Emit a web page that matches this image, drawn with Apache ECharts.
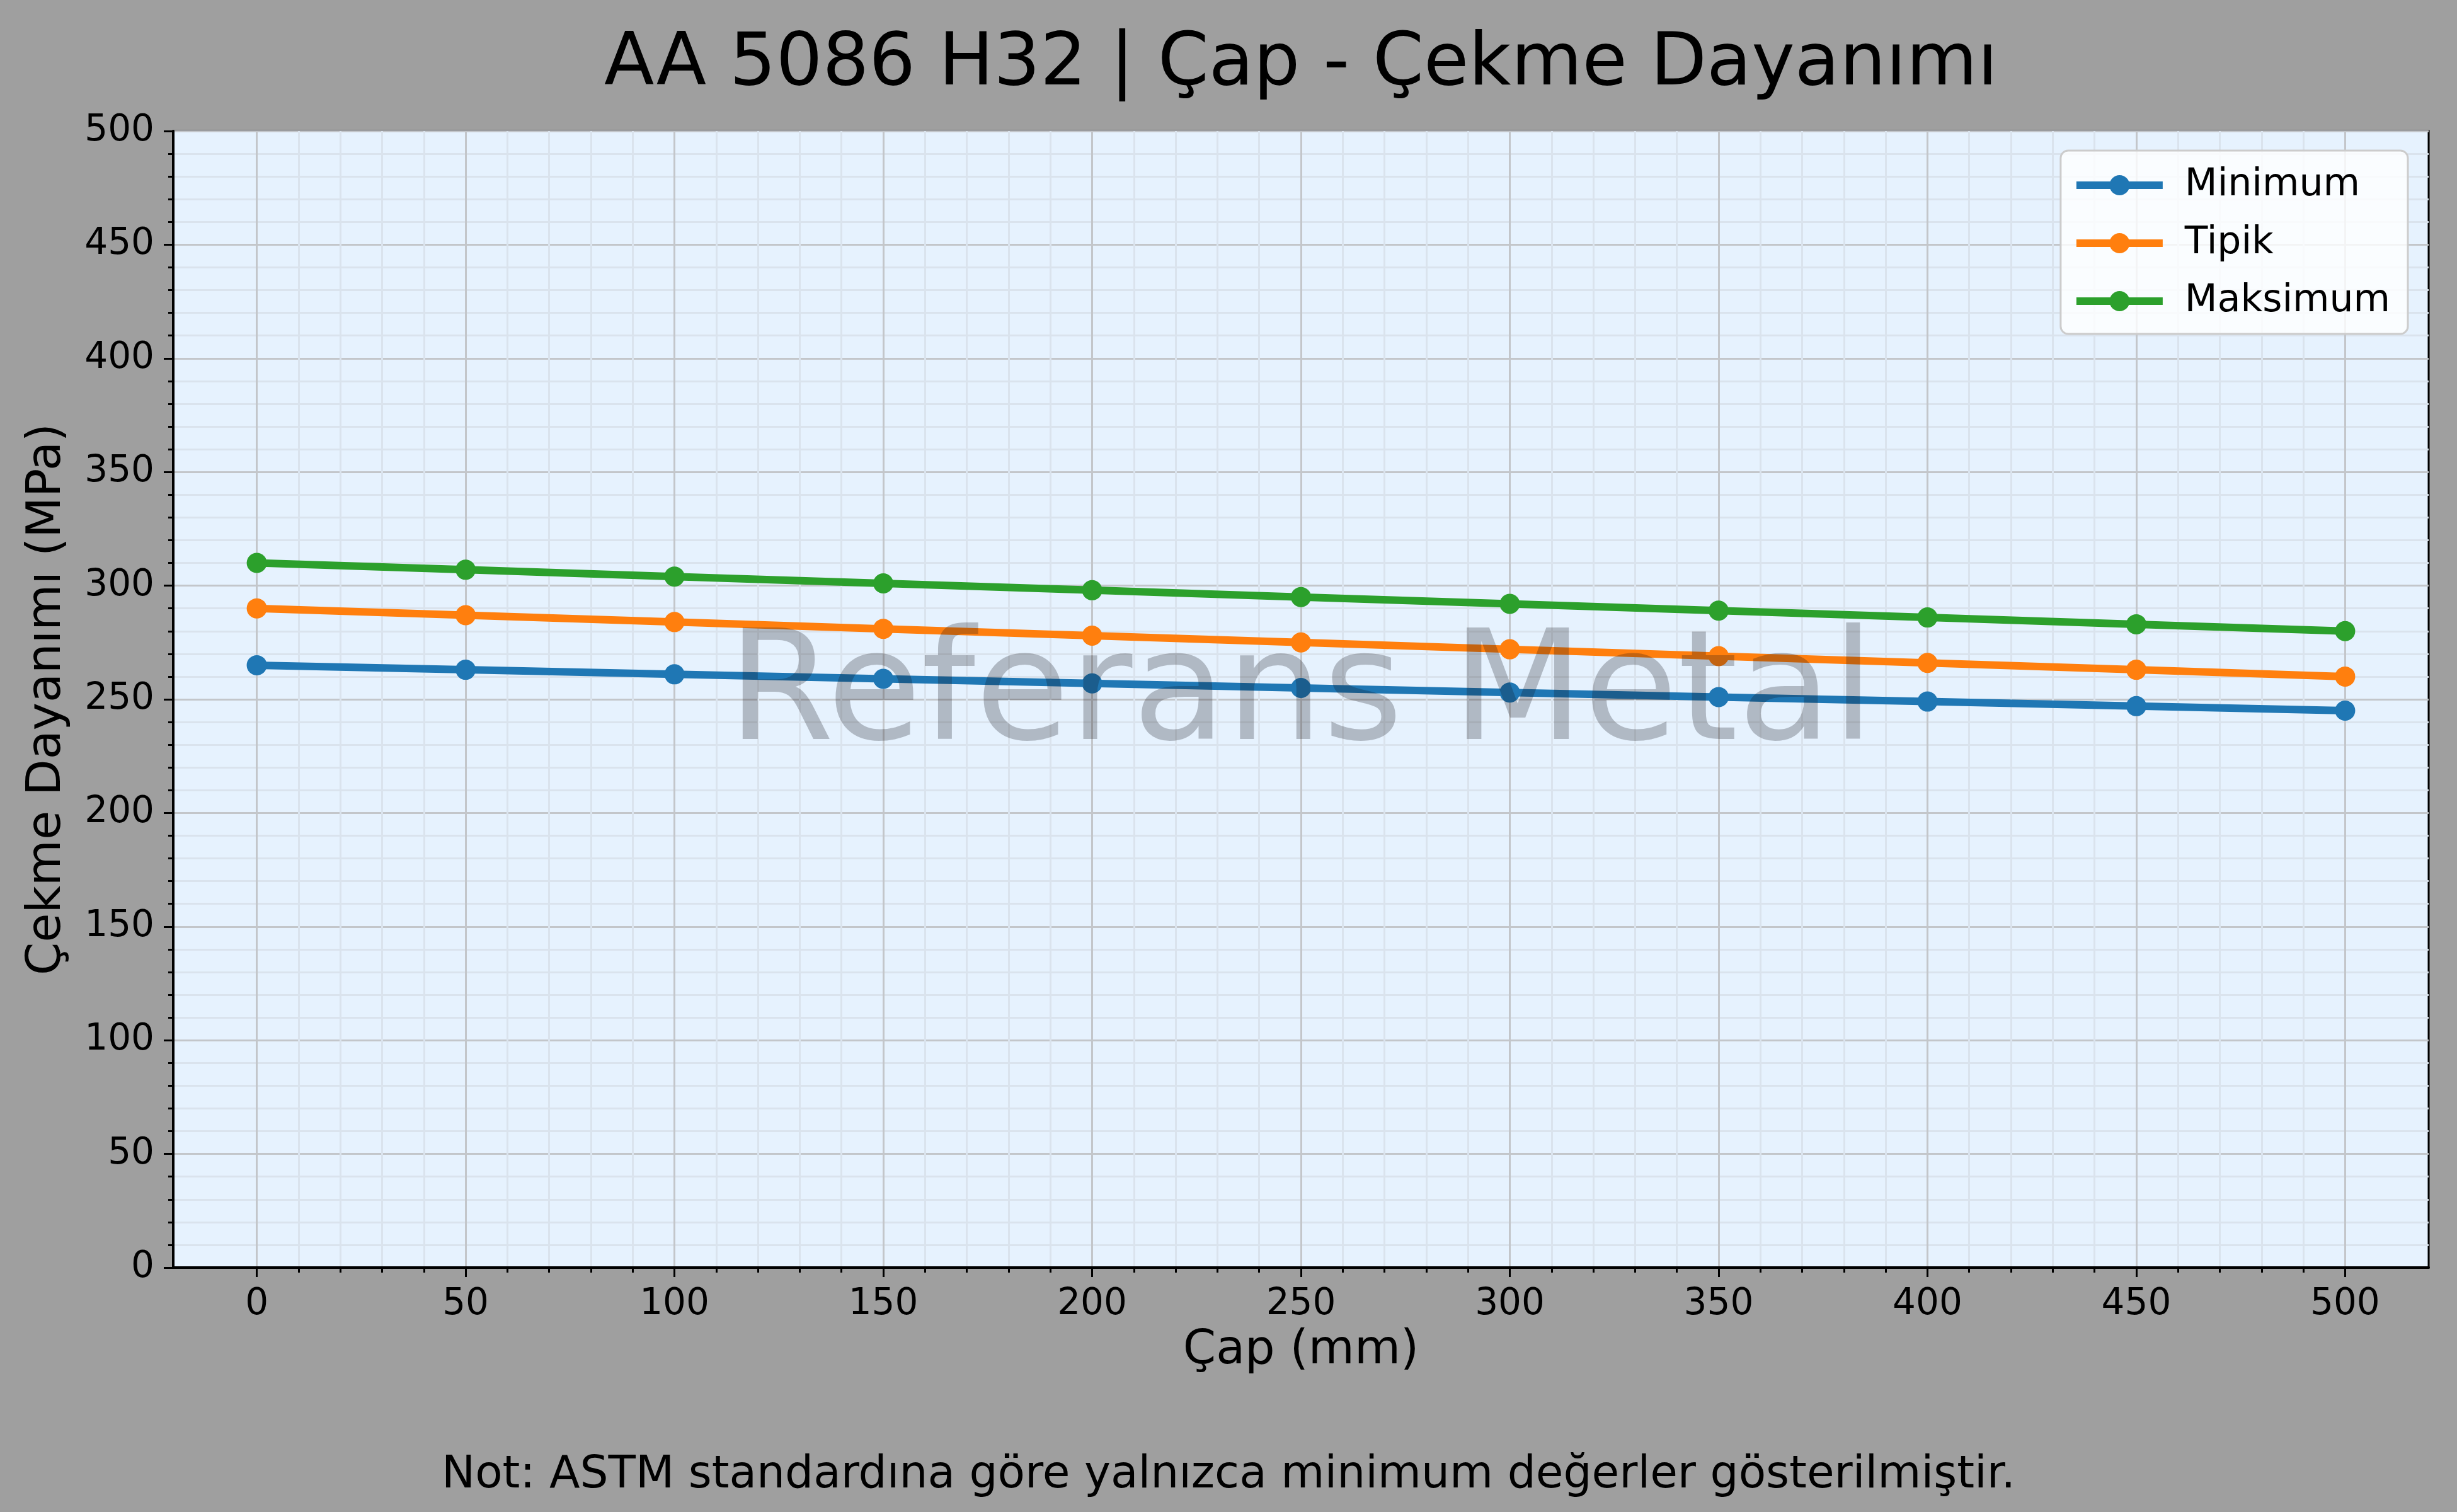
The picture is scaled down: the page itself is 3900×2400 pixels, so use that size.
<!DOCTYPE html>
<html>
<head>
<meta charset="utf-8">
<script src="https://cdn.jsdelivr.net/npm/echarts@6/dist/echarts.min.js"></script>
<style>
html, body { margin: 0; padding: 0; background: #9f9f9f; }
#main { width: 3900px; height: 2400px; }
</style>
</head>
<body>
<div id="main"></div>
<script>
// veri
var diameters = [0, 50, 100, 150, 200, 250, 300, 350, 400, 450, 500];
var minimumVals = [265, 263, 261, 259, 257, 255, 253, 251, 249, 247, 245];
var tipikVals = [290, 287, 284, 281, 278, 275, 272, 269, 266, 263, 260];
var maksimumVals = [310, 307, 304, 301, 298, 295, 292, 289, 286, 283, 280];
var xMajorTicks = [0, 50, 100, 150, 200, 250, 300, 350, 400, 450, 500];
var seriesNames = ['Minimum', 'Tipik', 'Maksimum'];
var seriesColors = ['#1f77b4', '#ff7f0e', '#2ca02c'];

var FONT = 'DejaVu Sans';

// ara tikler (10 mm)
var xMinorTicks = [];
for (var v = 0; v <= 500; v += 10) {
	if (v % 50 !== 0) xMinorTicks.push(v);
}

function pairs(xs, ys) {
	return xs.map(function(x, i) { return [x, ys[i]]; });
}

var myChart = echarts.init(document.getElementById('main'));

var lineSeries = [minimumVals, tipikVals, maksimumVals].map(function(vals, i) {
	return {
		name : seriesNames[i],
		type : 'line',
		xAxisIndex : 1,
		data : pairs(diameters, vals),
		symbol : 'circle',
		symbolSize : 32,
		lineStyle : { width : 12, color : seriesColors[i] },
		itemStyle : { color : seriesColors[i] },
		z : 3
	};
});

var option = {
	animation : false,
	backgroundColor : '#9f9f9f',
	textStyle : { fontFamily : FONT },
	grid : {
		left : 275,
		right : 45,
		top : 208,
		bottom : 388,
		show : true,
		backgroundColor : '#e6f2fe',
		borderColor : '#000',
		borderWidth : 3
	},
	legend : {
		orient : 'vertical',
		right : 78,
		top : 239,
		padding : [25, 28, 22, 19],
		itemWidth : 137,
		itemHeight : 40,
		itemGap : 32,
		data : seriesNames,
		backgroundColor : 'rgba(255,255,255,0.8)',
		borderColor : '#cccccc',
		borderWidth : 3,
		borderRadius : 12,
		lineStyle : { width : 12 },
		textStyle : { fontFamily : FONT, fontSize : 60, color : '#000', lineHeight : 60, padding : [0, 0, 0, 30] }
	},
	xAxis : [{
		// ara çizgiler
		type : 'value',
		min : -20,
		max : 520,
		position : 'bottom',
		axisLine : { show : false },
		axisTick : { show : true, length : 8, customValues : xMinorTicks, lineStyle : { color : '#000', width : 3 } },
		axisLabel : { show : false },
		splitLine : { show : true, lineStyle : { color : '#dae3ed', width : 3 } }
	}, {
		type : 'value',
		min : -20,
		max : 520,
		position : 'bottom',
		name : 'Çap (mm)',
		nameLocation : 'middle',
		nameGap : 95,
		nameTextStyle : { fontFamily : FONT, fontSize : 75, color : '#000' },
		axisLine : { show : true, onZero : false, lineStyle : { color : '#000', width : 4 } },
		axisTick : { show : true, length : 15, customValues : xMajorTicks, lineStyle : { color : '#000', width : 3 } },
		axisLabel : { show : true, customValues : xMajorTicks, margin : 30, fontFamily : FONT, fontSize : 58, color : '#000' },
		splitLine : { show : true, lineStyle : { color : '#c3c6ca', width : 3 } }
	}],
	yAxis : {
		type : 'value',
		min : 0,
		max : 500,
		interval : 50,
		name : 'Çekme Dayanımı (MPa)',
		nameLocation : 'middle',
		nameGap : 162,
		nameTextStyle : { fontFamily : FONT, fontSize : 75, color : '#000' },
		axisLine : { show : true, onZero : false, lineStyle : { color : '#000', width : 4 } },
		axisTick : { show : true, length : 15, lineStyle : { color : '#000', width : 3 } },
		minorTick : { show : true, splitNumber : 5, length : 8, lineStyle : { color : '#000', width : 3 } },
		axisLabel : { margin : 30, fontFamily : FONT, fontSize : 58, color : '#000' },
		splitLine : { show : true, lineStyle : { color : '#c3c6ca', width : 3 } },
		minorSplitLine : { show : true, lineStyle : { color : '#dae3ed', width : 3 } }
	},
	graphic : [{
		type : 'text',
		x : 2065,
		y : 104,
		style : {
			text : 'AA 5086 H32 | Çap - Çekme Dayanımı',
			font : '116px "DejaVu Sans"',
			fill : '#000',
			textAlign : 'center',
			textVerticalAlign : 'middle'
		}
	}, {
		type : 'text',
		x : 1950,
		y : 2343,
		style : {
			text : 'Not: ASTM standardına göre yalnızca minimum değerler gösterilmiştir.',
			font : '71px "DejaVu Sans"',
			fill : '#000',
			textAlign : 'center',
			textVerticalAlign : 'middle'
		}
	}, {
		type : 'text',
		x : 2065,
		y : 1110,
		z : 100,
		style : {
			text : 'Referans Metal',
			font : '243px "DejaVu Sans"',
			fill : 'rgba(15,15,25,0.25)',
			textAlign : 'center',
			textVerticalAlign : 'middle'
		}
	}],
	series : lineSeries
};

myChart.setOption(option);
</script>
</body>
</html>
